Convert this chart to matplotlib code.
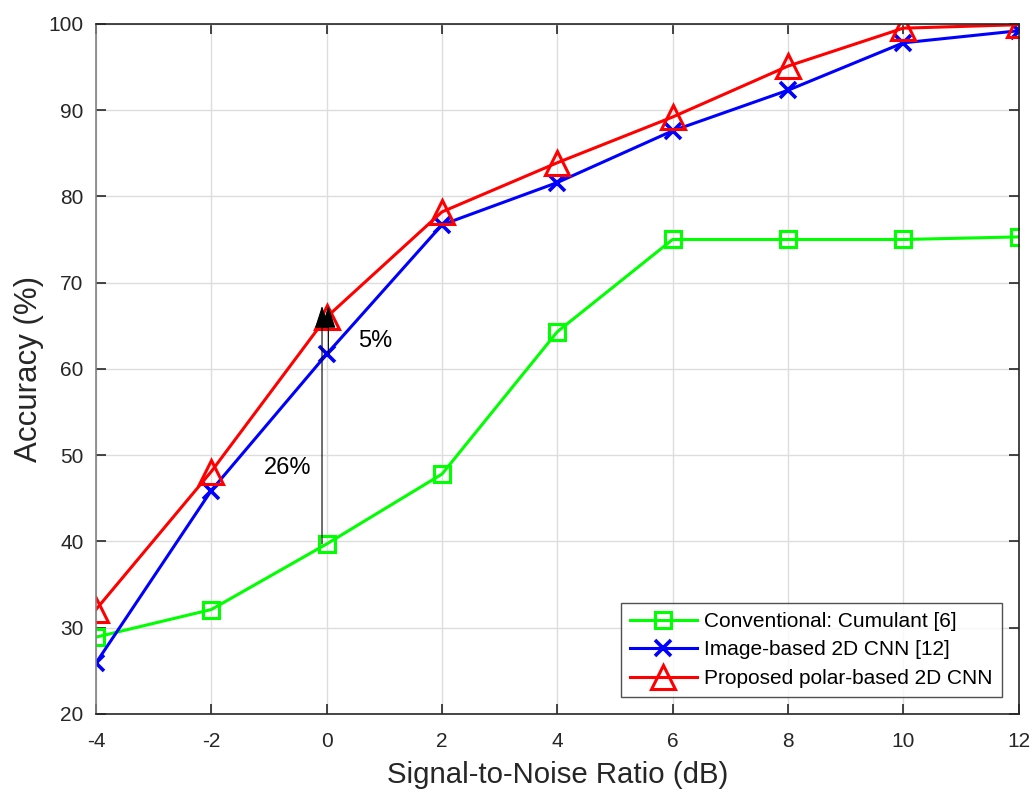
import matplotlib.pyplot as plt
import numpy as np

plt.rcParams['font.family'] = ['Liberation Sans', 'DejaVu Sans']
plt.rcParams['axes.unicode_minus'] = False

snr = [-4, -2, 0, 2, 4, 6, 8, 10, 12]
cumulant = [28.9, 32.1, 39.7, 47.8, 64.3, 75.0, 75.0, 75.0, 75.3]
image_cnn = [25.9, 45.9, 61.7, 76.7, 81.6, 87.6, 92.3, 97.8, 99.2]
polar_cnn = [32.1, 48.1, 66.0, 78.2, 83.9, 89.2, 95.1, 99.5, 99.9]

labels = ['Conventional: Cumulant [6]', 'Image-based 2D CNN [12]', 'Proposed polar-based 2D CNN']

fig = plt.figure(figsize=(10.32, 7.95), dpi=100)
ax = fig.add_axes([0.093, 0.102, 0.894, 0.868])

ax.plot(snr, cumulant, color='#00ff00', lw=2.2, marker='s', ms=12, mfc='none', mew=2.2, label=labels[0])
ax.plot(snr, image_cnn, color='#0000ff', lw=2.2, marker='x', ms=12, mew=2.6, label=labels[1])
ax.plot(snr, polar_cnn, color='#ff0000', lw=2.2, marker='^', ms=17, mfc='none', mew=2.2, label=labels[2])

# arrows showing the gains at 0 dB
arrow_style = dict(arrowstyle='-|>,head_length=1.4,head_width=0.45', color='black', lw=0.8,
                   shrinkA=0, shrinkB=0)
ax.annotate('', xy=(-0.08, 67.3), xytext=(-0.08, cumulant[2]), arrowprops=arrow_style)
ax.annotate('', xy=(0.03, 67.3), xytext=(0.03, image_cnn[2]), arrowprops=arrow_style)
ax.text(-0.67, 48.5, '26%', fontsize=17, ha='center', va='center')
ax.text(0.85, 63.2, '5%', fontsize=17, ha='center', va='center')

ax.set_xlim(-4, 12)
ax.set_ylim(20, 100)
ax.set_xticks(snr)
ax.set_yticks(np.arange(20, 101, 10))
ax.grid(True, color='#dddddd', lw=1)
ax.set_axisbelow(True)
ax.tick_params(direction='in', top=True, right=True, labelsize=15, length=7, width=1.2,
               colors='#262626')
ax.tick_params(axis='x', pad=13)
ax.tick_params(axis='y', pad=9)
for s in ax.spines.values():
    s.set_color('#262626')
    s.set_linewidth(1.2)
ax.spines['left'].set_color('#808080')

ax.set_xlabel('Signal-to-Noise Ratio (dB)', fontsize=21.2, color='#262626', labelpad=7)
ax.set_ylabel('Accuracy (%)', fontsize=22.5, color='#262626', labelpad=3)

leg = ax.legend(loc='lower right', fontsize=15, fancybox=False, edgecolor='#262626',
                borderaxespad=0.8, handlelength=3.2, handletextpad=0.35,
                labelspacing=0.45, borderpad=0.45)
leg.get_frame().set_linewidth(1.0)

fig.savefig('out.png', dpi=100)
